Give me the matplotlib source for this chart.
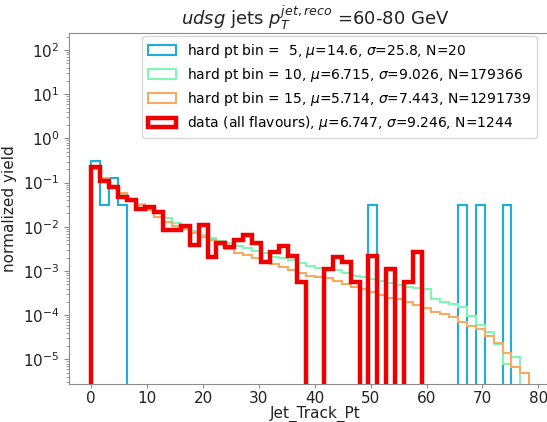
import numpy as np
import matplotlib
matplotlib.use('Agg')
import matplotlib.pyplot as plt

# 50 bins of Jet_Track_Pt between 0 and 80
bin_edges = np.linspace(0, 80, 51)
bin_centers = 0.5 * (bin_edges[:-1] + bin_edges[1:])

# normalized yields per bin
hard5 = [0.3125, 0.03125, 0.125, 0.03125, 0, 0, 0, 0, 0, 0,
         0, 0, 0, 0, 0, 0, 0, 0, 0, 0,
         0, 0, 0, 0, 0, 0, 0, 0, 0, 0,
         0, 0.03125, 0, 0, 0, 0, 0, 0, 0, 0,
         0, 0.03125, 0, 0.03125, 0, 0, 0.03125, 0, 0, 0]
hard10 = [0.20, 0.120, 0.085, 0.055, 0.043, 0.033, 0.026, 0.020, 0.0155, 0.0120,
          0.0098, 0.0082, 0.0066, 0.0055, 0.0047, 0.0042, 0.0037, 0.0033, 0.0029, 0.0025,
          0.0021, 0.0020, 0.0018, 0.0015, 0.0013, 0.00115, 0.00110, 0.00105, 0.00092, 0.00077,
          0.00072, 0.00065, 0.00060, 0.00054, 0.00048, 0.00044, 0.00042, 0.00038, 0.00023, 0.00020,
          0.00018, 0.000156, 9.3e-5, 6.0e-5, 4.2e-5, 2.2e-5, 7.9e-6, 1.15e-5, 0, 0]
hard15 = [0.22, 0.128, 0.085, 0.057, 0.042, 0.031, 0.024, 0.017, 0.0126, 0.0104,
          0.0088, 0.0074, 0.0058, 0.0050, 0.0041, 0.0031, 0.0026, 0.0023, 0.0020, 0.00163,
          0.00144, 0.00125, 0.00105, 0.00089, 0.00077, 0.00072, 0.00068, 0.00060, 0.00050, 0.00044,
          0.00039, 0.00034, 0.00029, 0.00024, 0.00023, 0.00020, 0.00017, 0.000143, 0.000120, 0.000106,
          8.9e-5, 6.8e-5, 5.7e-5, 4.8e-5, 3.3e-5, 2.3e-5, 1.37e-5, 6.8e-6, 5.0e-6, 0]
data = [0.222, 0.107, 0.079, 0.047, 0.040, 0.0255, 0.0287, 0.022, 0.0085, 0.0084,
        0.0104, 0.0039, 0.0110, 0.0021, 0.0043, 0.0034, 0.0050, 0.0064, 0.0044, 0.0016,
        0.0027, 0.0037, 0.0022, 0.00055, 0, 0, 0.0011, 0.0021, 0.0016, 0.00057,
        0, 0.0022, 0, 0.0011, 0, 0.00057, 0.00265, 0, 0, 0,
        0, 0, 0, 0, 0, 0, 0, 0, 0, 0]

labels = [r'hard pt bin =  5, $\mu$=14.6, $\sigma$=25.8, N=20',
          r'hard pt bin = 10, $\mu$=6.715, $\sigma$=9.026, N=179366',
          r'hard pt bin = 15, $\mu$=5.714, $\sigma$=7.443, N=1291739',
          r'data (all flavours), $\mu$=6.747, $\sigma$=9.246, N=1244']
colors = ['#1eaedd', '#80f7b4', '#f8aa62', '#ee0000']
widths = [1.5, 1.5, 1.5, 3.2]

fig = plt.figure(figsize=(5.47, 4.22), dpi=100)
ax = fig.add_axes([0.126, 0.090, 0.899, 0.831])
ax.set_yscale('log', nonpositive='clip')

for vals, lab, col, lw in zip([hard5, hard10, hard15, data], labels, colors, widths):
    ax.hist(bin_centers, bins=bin_edges, weights=vals, histtype='step',
            color=col, linewidth=lw, label=lab)

ax.set_xlim(-4, 84)
ax.set_ylim(2.75e-6, 240)
ax.set_xticks(np.arange(0, 81, 10))

for s in ax.spines.values():
    s.set_color('#8c8c8c')
ax.tick_params(axis='both', colors='#8c8c8c', labelcolor='#222222', labelsize=11)
ax.tick_params(axis='x', length=3, pad=2)
ax.tick_params(axis='y', which='minor', colors='#8c8c8c')

ax.set_xlabel('Jet_Track_Pt', fontsize=11, color='#222222', labelpad=0)
ax.set_ylabel('normalized yield', fontsize=11, color='#222222')
ax.set_title(r'$\it{udsg}$ jets $p_T^{jet, reco}$ =60-80 GeV', fontsize=13, color='#222222')

leg = ax.legend(loc='upper right', bbox_to_anchor=(537 / 547, 1 - 36 / 422),
                bbox_transform=fig.transFigure, fontsize=10, frameon=True,
                borderaxespad=0, labelspacing=0.45)
leg.get_frame().set_edgecolor('#cccccc')

fig.savefig('out.png', dpi=100)
